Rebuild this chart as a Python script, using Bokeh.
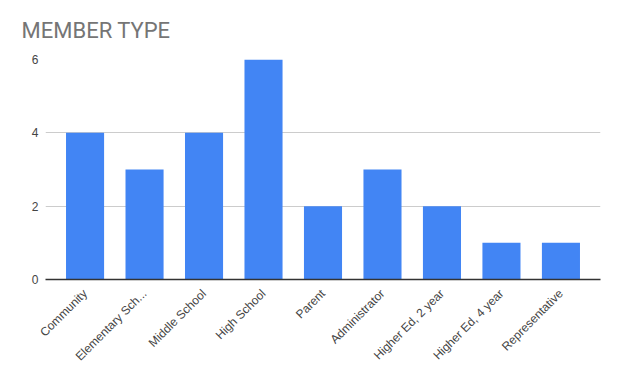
import math
from bokeh.plotting import figure
from bokeh.models import FactorRange, Range1d, FixedTicker
from bokeh.embed import file_html
from bokeh.resources import INLINE

categories = ["Community", "Elementary Sch...", "Middle School", "High School", "Parent",
              "Administrator", "Higher Ed, 2 year", "Higher Ed, 4 year", "Representative"]
counts = [4, 3, 4, 6, 2, 3, 2, 1, 1]
y_ticks = [0, 2, 4, 6]

p = figure(width=620, height=382, output_backend="svg", toolbar_location=None,
           x_range=FactorRange(factors=categories, range_padding=0.165, range_padding_units="absolute"),
           y_range=Range1d(0, 6),
           min_border_left=45, min_border_right=20, min_border_top=59, min_border_bottom=103,
           title="MEMBER TYPE")

p.vbar(x=categories, top=counts, width=0.64, color="#4285F4", line_color=None)

p.title.text_font = "Roboto"
p.title.text_font_size = "22px"
p.title.text_font_style = "normal"
p.title.text_color = "#757575"
p.title.vertical_align = "top"
p.title.offset = -24
p.title.standoff = 30

p.outline_line_color = None
p.background_fill_color = "white"
p.border_fill_color = "white"

p.xgrid.grid_line_color = None
p.ygrid.grid_line_color = "#cccccc"
p.ygrid.grid_line_width = 1
p.yaxis.ticker = FixedTicker(ticks=y_ticks)
p.yaxis.axis_line_color = None
p.yaxis.major_tick_line_color = None
p.yaxis.major_tick_out = 0
p.yaxis.minor_tick_line_color = None
p.yaxis.major_label_standoff = 7
p.yaxis.major_label_text_font = "Liberation Sans"
p.yaxis.major_label_text_font_size = "12px"
p.yaxis.major_label_text_color = "#444444"

p.xaxis.axis_line_color = "#333333"
p.xaxis.axis_line_width = 1.5
p.xaxis.major_tick_line_color = None
p.xaxis.minor_tick_line_color = None
p.xaxis.major_label_orientation = math.pi / 4
p.xaxis.major_label_standoff = 6
p.xaxis.major_label_text_font = "Liberation Sans"
p.xaxis.major_label_text_font_size = "12px"
p.xaxis.major_label_text_color = "#444444"

open("out.html", "w").write(file_html(p, INLINE))
